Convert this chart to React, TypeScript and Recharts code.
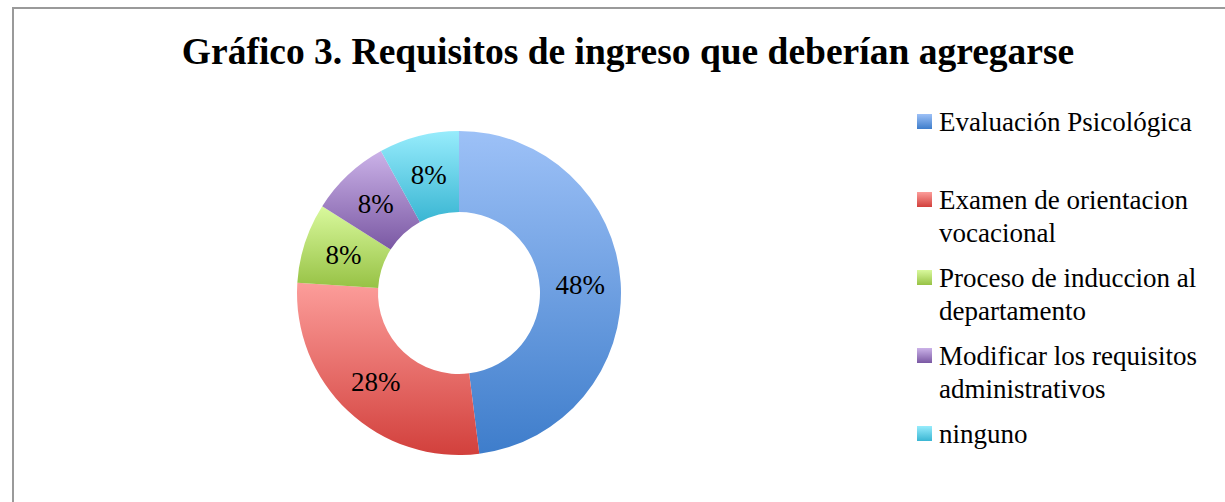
import { Cell, Legend, Pie, PieChart } from "recharts"

const CATEGORIES = [
  "Evaluación Psicológica",
  "Examen de orientacion vocacional",
  "Proceso de induccion al departamento",
  "Modificar los requisitos administrativos",
  "ninguno",
]
const VALUES = [48, 28, 8, 8, 8]

// light (top) -> dark (bottom) for each slice
const TOP_COLORS = ["#9dc1f7", "#fc9d9a", "#d9f99d", "#cbb2e8", "#97ecfc"]
const BOTTOM_COLORS = ["#3e7dcb", "#d2403c", "#97c245", "#7a58a3", "#3ab6d3"]

const data = CATEGORIES.map((name, i) => ({ name, value: VALUES[i] }))

const RADIAN = Math.PI / 180
const FONT = "'Liberation Serif', 'Times New Roman', serif"

function SliceLabel(props: any) {
  const { cx, cy, midAngle, innerRadius, outerRadius, value } = props
  const r = (innerRadius + outerRadius) / 2
  const x = cx + r * Math.cos(-midAngle * RADIAN)
  const y = cy + r * Math.sin(-midAngle * RADIAN)
  return (
    <text
      x={x}
      y={y}
      textAnchor="middle"
      dominantBaseline="central"
      fontFamily={FONT}
      fontSize={27}
      fill="#000"
    >
      {`${value}%`}
    </text>
  )
}

function LegendBox() {
  return (
    <div style={{ fontFamily: FONT, fontSize: 27, lineHeight: "33px", color: "#000" }}>
      {CATEGORIES.map((name, i) => (
        <div
          key={name}
          style={{ position: "absolute", top: i * 78, left: 0, display: "flex", width: 300 }}
        >
          <span
            style={{
              display: "inline-block",
              width: 15,
              height: 15,
              marginTop: 8,
              marginRight: 7,
              flexShrink: 0,
              background: `linear-gradient(${TOP_COLORS[i]}, ${BOTTOM_COLORS[i]})`,
            }}
          />
          <span style={{ width: 275 }}>{name}</span>
        </div>
      ))}
    </div>
  )
}

export default function App() {
  return (
    <div
      style={{
        position: "fixed",
        left: 0,
        top: 0,
        width: 1225,
        height: 502,
        overflow: "hidden",
        background: "#fff",
      }}
    >
      <div
        style={{
          position: "absolute",
          left: 12,
          top: 7,
          width: 1240,
          height: 520,
          border: "2px solid #9a9a9a",
        }}
      />
      <div
        style={{
          position: "absolute",
          left: 12,
          width: 1232,
          top: 30,
          textAlign: "center",
          fontFamily: FONT,
          fontWeight: "bold",
          fontSize: 37.5,
          lineHeight: "44px",
          color: "#000",
        }}
      >
        Gráfico 3. Requisitos de ingreso que deberían agregarse
      </div>
      <div style={{ position: "absolute", left: 0, top: 0 }}>
        <PieChart width={1225} height={502} margin={{ top: 0, right: 0, bottom: 0, left: 0 }}>
          <defs>
            {TOP_COLORS.map((c, i) => (
              <linearGradient key={i} id={`slice${i}`} x1="0" y1="0" x2="0" y2="1">
                <stop offset="0%" stopColor={c} />
                <stop offset="100%" stopColor={BOTTOM_COLORS[i]} />
              </linearGradient>
            ))}
          </defs>
          <Pie
            data={data}
            dataKey="value"
            nameKey="name"
            cx={459}
            cy={293}
            innerRadius={81}
            outerRadius={162}
            startAngle={90}
            endAngle={-270}
            stroke="none"
            label={SliceLabel}
            labelLine={false}
            isAnimationActive={false}
          >
            {data.map((d, i) => (
              <Cell key={d.name} fill={`url(#slice${i})`} />
            ))}
          </Pie>
          <Legend
            content={<LegendBox />}
            wrapperStyle={{ left: 917, top: 106, width: 300, height: 360 }}
          />
        </PieChart>
      </div>
    </div>
  )
}
